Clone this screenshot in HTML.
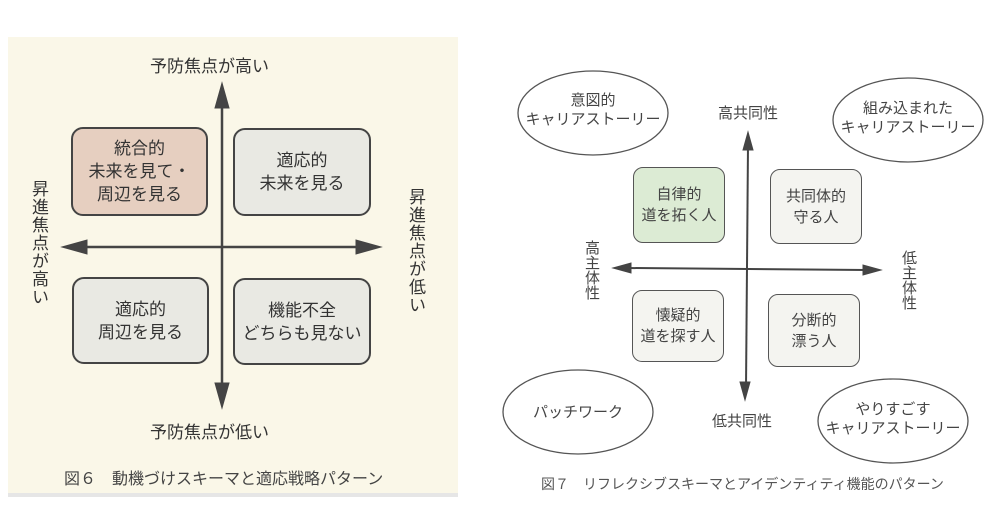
<!DOCTYPE html>
<html><head><meta charset="utf-8"><style>
body{margin:0;width:1001px;height:527px;background:#fff;position:relative;overflow:hidden;font-family:"Liberation Sans","Noto Sans CJK JP",sans-serif;color:#333}
.a{position:absolute;white-space:nowrap}
.v{writing-mode:vertical-rl;letter-spacing:1px}
.bx{position:absolute;border:2px solid #444;border-radius:12px;box-sizing:border-box;display:flex;align-items:center;justify-content:center;text-align:center;font-size:17px;line-height:23px;background:#e9e9e3}
.rb{position:absolute;border:1.5px solid #555;border-radius:10px;box-sizing:border-box;display:flex;align-items:center;justify-content:center;text-align:center;font-size:15px;line-height:21px;background:#f4f4f0;color:#444}
</style></head><body>
<div class="a" style="left:8px;top:37px;width:450px;height:456px;background:#faf7e8"></div>
<div class="a" style="left:8px;top:493px;width:450px;height:4px;background:#e6e6e6"></div>
<svg class="a" style="left:0;top:0" width="1001" height="527">
<g fill="#444" stroke="#444">
<line x1="222" y1="100" x2="222" y2="392" stroke-width="2.5"/>
<polygon points="222,83 215,108 229,108"/><polygon points="222,408 215,383 229,383"/>
<line x1="78" y1="247" x2="365" y2="247" stroke-width="2.5"/>
<polygon points="62,247 87,240 87,254"/><polygon points="381,247 356,240 356,254"/>
</g>
<g fill="#444" stroke="#444">
<line x1="748" y1="145" x2="746" y2="388" stroke-width="2"/>
<polygon points="748,132 743,150 753,150"/><polygon points="745,400 740,382 750,382"/>
<line x1="628" y1="268" x2="866" y2="270" stroke-width="2"/>
<polygon points="613,268 631,263 631,273"/><polygon points="881,270 863,265 863,275"/>
</g>
<g fill="none" stroke="#555" stroke-width="1.3">
<ellipse cx="593" cy="113" rx="75" ry="42"/>
<ellipse cx="908" cy="120" rx="75" ry="42"/>
<ellipse cx="578" cy="412" rx="75" ry="42"/>
<ellipse cx="893" cy="421" rx="75" ry="42"/>
</g>
</svg>
<div class="a" style="left:150px;top:52px;font-size:17px">予防焦点が高い</div>
<div class="a" style="left:150px;top:418px;font-size:17px">予防焦点が低い</div>
<div class="a v" style="left:26px;top:180px;font-size:17px">昇進焦点が高い</div>
<div class="a v" style="left:403px;top:188px;font-size:17px">昇進焦点が低い</div>
<div class="bx" style="left:71px;top:127px;width:137px;height:89px;background:#e6cfc0">統合的<br>未来を見て・<br>周辺を見る</div>
<div class="bx" style="left:233px;top:128px;width:138px;height:88px">適応的<br>未来を見る</div>
<div class="bx" style="left:72px;top:277px;width:137px;height:87px">適応的<br>周辺を見る</div>
<div class="bx" style="left:233px;top:278px;width:138px;height:87px">機能不全<br>どちらも見ない</div>
<div class="a" style="left:64px;top:465px;font-size:16px;color:#444">図６　動機づけスキーマと適応戦略パターン</div>

<div class="rb" style="left:633px;top:167px;width:92px;height:76px;background:#dcebd4">自律的<br>道を拓く人</div>
<div class="rb" style="left:770px;top:169px;width:92px;height:75px">共同体的<br>守る人</div>
<div class="rb" style="left:632px;top:290px;width:92px;height:72px">懐疑的<br>道を探す人</div>
<div class="rb" style="left:768px;top:294px;width:92px;height:73px">分断的<br>漂う人</div>
<div class="a" style="left:718px;top:102px;font-size:15px;color:#444">高共同性</div>
<div class="a" style="left:712px;top:410px;font-size:15px;color:#444">低共同性</div>
<div class="a v" style="left:581px;top:240px;font-size:15px;color:#444;letter-spacing:0">高主体性</div>
<div class="a v" style="left:898px;top:250px;font-size:15px;color:#444;letter-spacing:0">低主体性</div>
<div class="a" style="left:518px;top:91px;width:150px;text-align:center;font-size:15px;line-height:19px;color:#444">意図的<br>キャリアストーリー</div>
<div class="a" style="left:833px;top:99px;width:150px;text-align:center;font-size:15px;line-height:19px;color:#444">組み込まれた<br>キャリアストーリー</div>
<div class="a" style="left:503px;top:401px;width:150px;text-align:center;font-size:15px;color:#444">パッチワーク</div>
<div class="a" style="left:818px;top:400px;width:150px;text-align:center;font-size:15px;line-height:19px;color:#444">やりすごす<br>キャリアストーリー</div>
<div class="a" style="left:541px;top:474px;font-size:14px;color:#555">図７　リフレクシブスキーマとアイデンティティ機能のパターン</div>
</body></html>
